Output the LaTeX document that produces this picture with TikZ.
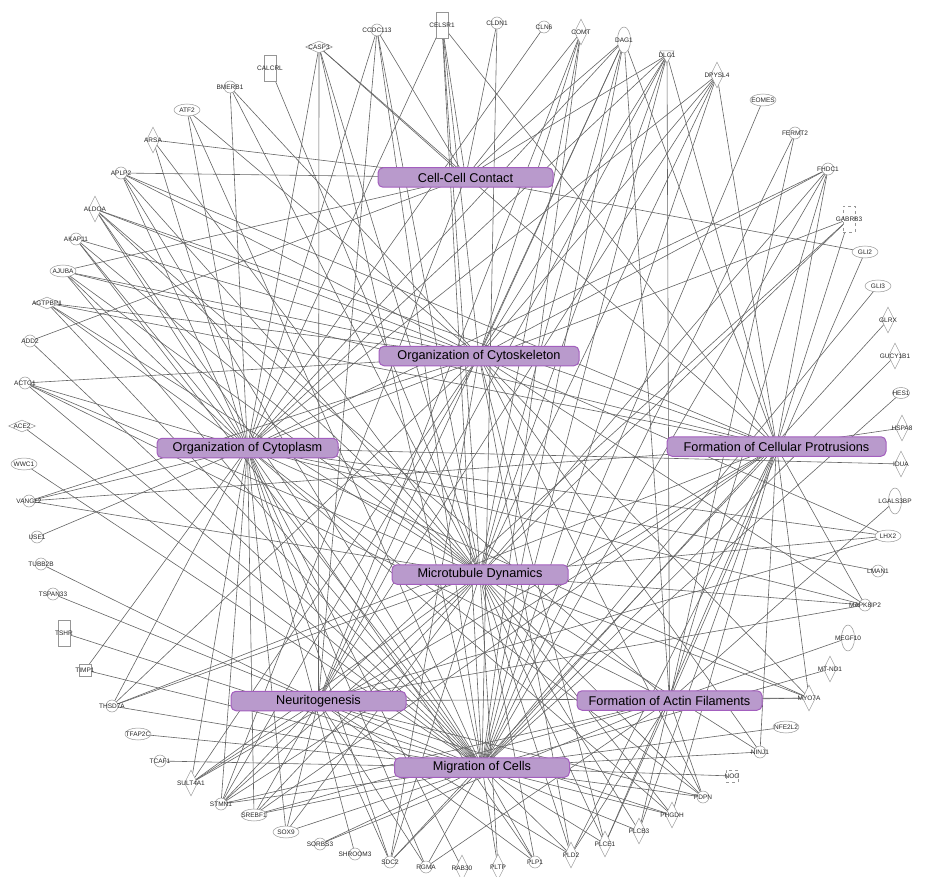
\documentclass[tikz,border=0pt]{standalone}
\usepackage{fontspec}
\setmainfont{Liberation Sans}
\usetikzlibrary{shapes.geometric,backgrounds}
\definecolor{funcfill}{RGB}{185,154,204}
\definecolor{funcdraw}{RGB}{163,95,190}
\definecolor{genedraw}{RGB}{150,150,150}
\definecolor{edgecol}{RGB}{100,100,100}
\tikzset{
  func/.style={rectangle, rounded corners=5pt, draw=funcdraw, fill=funcfill, line width=1pt,
    minimum height=19.5pt, inner sep=0pt, font=\fontsize{12.7}{14}\selectfont, text=black},
  genelab/.style={inner sep=0pt, font=\fontsize{6.5}{7}\selectfont, text=black!85},
  gshape/.style={draw=genedraw, fill=white, line width=0.5pt, inner sep=0pt},
  gcirc/.style={gshape, circle, minimum size=12pt},
  gell/.style={gshape, ellipse, minimum width=26pt, minimum height=12pt},
  gsell/.style={gshape, ellipse, minimum width=17pt, minimum height=11pt},
  gvell/.style={gshape, ellipse, minimum width=13pt, minimum height=26pt},
  gvdia/.style={gshape, diamond, minimum width=13pt, minimum height=26pt},
  ghdia/.style={gshape, diamond, minimum width=27pt, minimum height=12pt},
  gvrect/.style={gshape, rectangle, minimum width=12pt, minimum height=26pt},
  gvrectd/.style={gvrect, dashed},
  gsq/.style={gshape, rectangle, minimum size=12pt},
  gsqd/.style={gsq, dashed},
  gtri/.style={gshape, regular polygon, regular polygon sides=3, shape border rotate=180, minimum size=16pt},
  link/.style={draw=edgecol, line width=0.6pt},
}
% shape node plus its centred label
\newcommand\genenode[5]{\node[#1] (#2) at (#3,#4) {}; \node[genelab] (#2t) at (#2.center) {#5};}
% connectors from one gene to a list of functions
\newcommand\links[2]{\foreach \f in {#2} {\draw[link] (#1.center) -- (\f.center);}}

\begin{document}
\begin{tikzpicture}[x=1pt,y=-1pt]
\useasboundingbox (0,0) rectangle (937,877);

% function boxes
\node[func, minimum width=175pt] (ccc) at (465.5,177.5) {Cell-Cell Contact};
\node[func, minimum width=200pt] (ock) at (479,356) {Organization of Cytoskeleton};
\node[func, minimum width=181pt] (ocp) at (247.5,448) {Organization of Cytoplasm};
\node[func, minimum width=219pt] (fcp) at (776.5,446.5) {Formation of Cellular Protrusions};
\node[func, minimum width=176pt] (mtd) at (480,574.5) {Microtubule Dynamics};
\node[func, minimum width=175pt] (neu) at (318.5,701) {Neuritogenesis};
\node[func, minimum width=185pt] (faf) at (669.5,700.5) {Formation of Actin Filaments};
\node[func, minimum width=175pt] (mig) at (482,767.5) {Migration of Cells};

% genes, clockwise from the top
\genenode{ghdia}{casp3}{319}{47}{CASP3}
\genenode{gcirc}{ccdc113}{377}{30}{CCDC113}
\genenode{gvrect}{celsr1}{442}{25}{CELSR1}
\genenode{gcirc}{cldn1}{497}{23}{CLDN1}
\genenode{gcirc}{cln6}{544}{27}{CLN6}
\genenode{gvdia}{comt}{581}{32}{COMT}
\genenode{gvell}{dag1}{624}{40}{DAG1}
\genenode{gtri}{dlg1}{667}{55}{DLG1}
\genenode{gvdia}{dpysl4}{717}{75}{DPYSL4}
\genenode{gell}{eomes}{763}{100}{EOMES}
\genenode{gcirc}{fermt2}{795}{133}{FERMT2}
\genenode{gcirc}{fhdc1}{828}{169}{FHDC1}
\genenode{gvrectd}{gabrb3}{849}{219}{GABRB3}
\genenode{gell}{gli2}{865}{252}{GLI2}
\genenode{gell}{gli3}{878}{286}{GLI3}
\genenode{gvdia}{glrx}{888}{320}{GLRX}
\genenode{gvdia}{gucy1b1}{895}{356}{GUCY1B1}
\genenode{gsell}{hes1}{901}{393}{HES1}
\genenode{gvdia}{hspa8}{902}{428}{HSPA8}
\genenode{gvdia}{idua}{901}{464}{IDUA}
\genenode{gvell}{lgals3bp}{895}{501}{LGALS3BP}
\genenode{gell}{lhx2}{888}{536}{LHX2}
\genenode{gcirc}{lman1}{878}{571}{LMAN1}
\genenode{gcirc}{mapk8ip2}{865}{605}{MAPK8IP2}
\genenode{gvell}{megf10}{848}{638}{MEGF10}
\genenode{gvdia}{mtnd1}{830}{669}{MT-ND1}
\genenode{gvdia}{myo7a}{809}{698}{MYO7A}
\genenode{gell}{nfe2l2}{786}{727}{NFE2L2}
\genenode{gcirc}{ninj1}{760}{752}{NINJ1}
\genenode{gsqd}{nog}{732}{776}{NOG}
\genenode{gcirc}{pdpn}{703}{797}{PDPN}
\genenode{gvdia}{phgdh}{672}{815}{PHGDH}
\genenode{gvdia}{plcb3}{639}{831}{PLCB3}
\genenode{gvdia}{plce1}{605}{844}{PLCE1}
\genenode{gvdia}{pld2}{571}{855}{PLD2}
\genenode{gcirc}{plp1}{535}{862}{PLP1}
\genenode{gvdia}{pltp}{498}{867}{PLTP}
\genenode{gvdia}{rab30}{462}{868}{RAB30}
\genenode{gcirc}{rgma}{426}{867}{RGMA}
\genenode{gcirc}{sdc2}{390}{862}{SDC2}
\genenode{gcirc}{shroom3}{355}{854}{SHROOM3}
\genenode{gcirc}{sorbs3}{320}{844}{SORBS3}
\genenode{gell}{sox9}{286}{832}{SOX9}
\genenode{gell}{srebf1}{254}{815}{SREBF1}
\genenode{gcirc}{stmn1}{221}{804}{STMN1}
\genenode{gvdia}{sult4a1}{191}{783}{SULT4A1}
\genenode{gcirc}{tcaf1}{160}{761}{TCAF1}
\genenode{gell}{tfap2c}{138}{734}{TFAP2C}
\genenode{gcirc}{thsd7a}{112}{706}{THSD7A}
\genenode{gsq}{timp1}{85}{670}{TIMP1}
\genenode{gvrect}{tshr}{64}{633}{TSHR}
\genenode{gcirc}{tspan33}{53}{594}{TSPAN33}
\genenode{gcirc}{tubb2b}{41}{564}{TUBB2B}
\genenode{gcirc}{use1}{37}{537}{USE1}
\genenode{gcirc}{vangl2}{29}{501}{VANGL2}
\genenode{gell}{wwc1}{24}{464}{WWC1}
\genenode{ghdia}{ace2}{22}{426}{ACE2}
\genenode{gcirc}{actg1}{25}{383}{ACTG1}
\genenode{gcirc}{add2}{30}{341}{ADD2}
\genenode{ghdia}{agtpbp1}{47}{303}{AGTPBP1}
\genenode{gell}{ajuba}{63}{271}{AJUBA}
\genenode{gcirc}{akap11}{76}{239}{AKAP11}
\genenode{gvdia}{aldoa}{95}{209}{ALDOA}
\genenode{gcirc}{aplp2}{121}{173}{APLP2}
\genenode{gvdia}{arsa}{153}{140}{ARSA}
\genenode{gell}{atf2}{187}{110}{ATF2}
\genenode{gcirc}{bmerb1}{230}{87}{BMERB1}
\genenode{gvrect}{calcrl}{270}{68}{CALCRL}

% connectors, behind all boxes
\begin{pgfonlayer}{background}
\links{casp3}{ccc,fcp,neu,mig,mtd,ocp}
\links{ccdc113}{ccc,ocp,neu,mtd,mig}
\links{celsr1}{ocp,ock,mtd,mig,fcp,ccc}
\links{cldn1}{mig,ccc}
\links{cln6}{ocp}
\links{comt}{ccc,ock,mtd,neu,mig}
\links{dag1}{ccc,ock,ocp,mtd,neu,mig,fcp,faf}
\links{dlg1}{faf,fcp,ccc,ock,ocp,mtd,mig,neu}
\links{dpysl4}{fcp,ock,ocp,mtd,neu,mig}
\links{eomes}{mig}
\links{fermt2}{mig,faf}
\links{fhdc1}{ock,ocp,mtd,mig,faf,fcp}
\links{gabrb3}{ocp,mtd,neu,fcp}
\links{gli2}{ccc,faf}
\links{gli3}{mig}
\links{glrx}{mig}
\links{gucy1b1}{mig}
\links{hes1}{mig}
\links{hspa8}{fcp}
\links{idua}{ocp}
\links{lgals3bp}{faf}
\links{lhx2}{ocp,ock,mtd,neu}
\links{lman1}{ocp}
\links{mapk8ip2}{mtd,fcp,ocp,neu,ock}
\links{megf10}{faf}
\links{mtnd1}{mig}
\links{myo7a}{mtd,ocp,ock,fcp,faf,neu}
\links{nfe2l2}{mig}
\links{ninj1}{fcp,ock,mtd,mig}
\links{nog}{mig}
\links{pdpn}{faf,mig,mtd,neu,ocp,ock}
\links{phgdh}{mig,neu,mtd,ocp,fcp}
\links{plcb3}{fcp,faf,mig,mtd}
\links{plce1}{mig,faf,fcp,ock,mtd}
\links{pld2}{mig,mtd,neu,faf,fcp,ock}
\links{plp1}{mig,mtd,neu,ocp}
\links{pltp}{mig,mtd}
\links{rab30}{ocp}
\links{rgma}{neu,mig,ocp,faf}
\links{sdc2}{ocp,ock,neu,mtd,mig,fcp}
\links{shroom3}{ocp}
\links{sorbs3}{mig,faf}
\links{sox9}{ocp,neu,mig,mtd}
\links{srebf1}{ocp,neu,mtd,fcp,faf,mig}
\links{stmn1}{ocp,ock,ccc,mtd,neu,fcp,faf,mig}
\links{sult4a1}{ocp,ock,mtd,fcp,neu}
\links{tcaf1}{mig}
\links{tfap2c}{mig}
\links{thsd7a}{ocp,ock,mtd,fcp,mig}
\links{timp1}{ocp,mig}
\links{tshr}{mig}
\links{tspan33}{mig}
\links{tubb2b}{neu}
\links{use1}{ocp}
\links{vangl2}{ocp,fcp,ock,mtd}
\links{wwc1}{mig}
\links{ace2}{mig}
\links{actg1}{ock,ocp,mtd,mig,faf}
\links{add2}{ccc,mig}
\links{agtpbp1}{ock,fcp,ocp,mtd,mig}
\links{ajuba}{ccc,ock,fcp,ocp,mtd,mig}
\links{akap11}{ock,ocp,mtd,mig}
\links{aldoa}{ock,ocp,mtd,fcp,mig,faf}
\links{aplp2}{ccc,ock,ocp,mtd,mig,fcp}
\links{arsa}{ccc,ocp,mtd}
\links{atf2}{ocp,mig,ock}
\links{bmerb1}{ocp,ock,mtd}
\links{calcrl}{mtd}
\end{pgfonlayer}
\end{tikzpicture}
\end{document}
